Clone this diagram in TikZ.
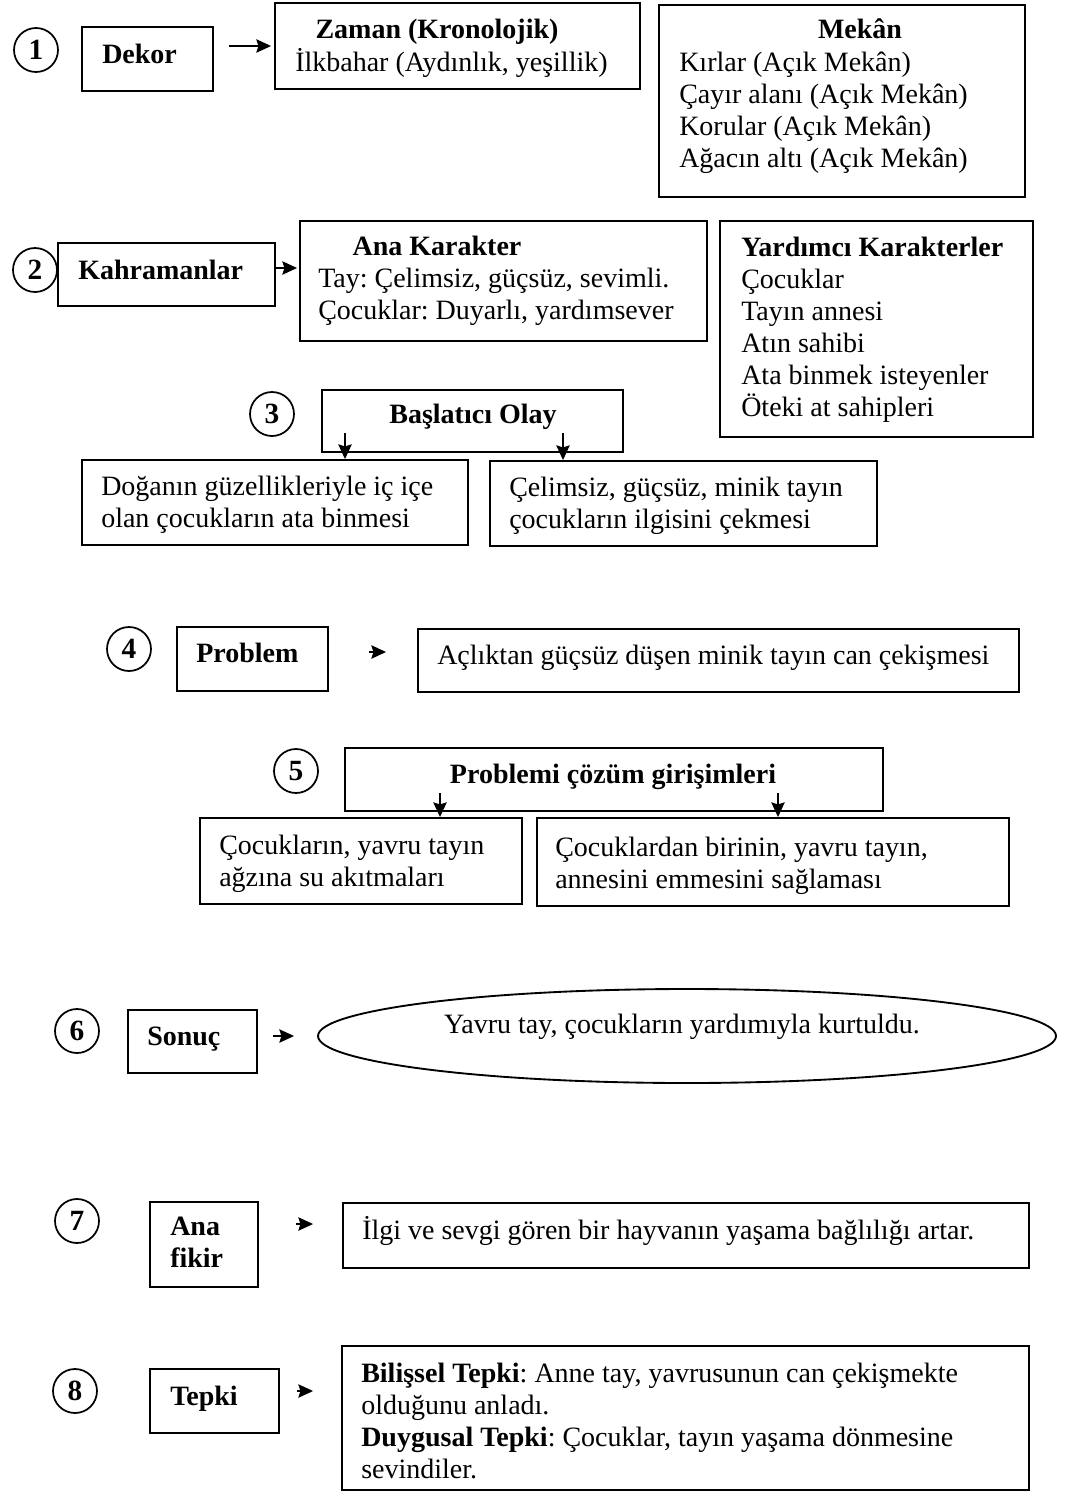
\documentclass[tikz,border=0pt]{standalone}
\usepackage{fontspec}
\setmainfont{Liberation Serif}
\usetikzlibrary{arrows.meta,fit,shapes.geometric}
\begin{document}
\begin{tikzpicture}[x=0.75pt,y=-0.75pt,
  box/.style={draw, line width=1.4pt, inner sep=0pt, fit={#1}},
  txt/.style={inner sep=0pt, font=\fontsize{21}{24}\selectfont\frenchspacing, align=left},
  num/.style={draw, circle, line width=1.3pt, minimum size=33pt, inner sep=0pt,
              font=\fontsize{22}{24}\selectfont\bfseries},
  arr/.style={line width=1.4pt, -{Stealth[length=11pt,width=10pt,inset=1.5pt]}}]
\useasboundingbox (0,0) rectangle (1069,1492);
% multi-line texts are anchored at the baseline of their last line

% ---- 1: Dekor ----
\node[num] (n1) at (36,50) {1};
\node[box={(82,27) (213,91)}] (dekor) {};
\node[txt, anchor=base west] (dekort) at (102,63) {\textbf{Dekor}};
\node[box={(275,3) (640,89)}] (zaman) {};
\node[txt, anchor=base] (zamanh) at (437,38) {\textbf{Zaman (Kronolojik)}};
\node[txt, anchor=base west] (zamant) at (295,71) {İlkbahar (Aydınlık, yeşillik)};
\node[box={(659,5) (1025,197)}] (mekan) {};
\node[txt, anchor=base] (mekanh) at (860,38) {\textbf{Mekân}};
\node[txt, anchor=base west] (mekant) at (679,167)
  {Kırlar (Açık Mekân)\\Çayır alanı (Açık Mekân)\\Korular (Açık Mekân)\\Ağacın altı (Açık Mekân)};
\draw[arr, shorten <=11.25pt, shorten >=2.25pt] (dekor.east |- zaman.west) -- (zaman.west);

% ---- 2: Kahramanlar ----
\node[num] (n2) at (35,270) {2};
\node[box={(58,243) (275,306)}, fill=white] (kahr) {};
\node[txt, anchor=base west] (kahrt) at (78,279) {\textbf{Kahramanlar}};
\node[box={(300,221) (707,341)}] (anak) {};
\node[txt, anchor=base] (anakh) at (437,255) {\textbf{Ana Karakter}};
\node[txt, anchor=base west] (anakt) at (318,319)
  {Tay: Çelimsiz, güçsüz, sevimli.\\Çocuklar: Duyarlı, yardımsever};
\node[box={(720,221) (1033,437)}] (yard) {};
\node[txt, anchor=base west] (yardt) at (741,416)
  {\textbf{Yardımcı Karakterler}\\Çocuklar\\Tayın annesi\\Atın sahibi\\Ata binmek isteyenler\\Öteki at sahipleri};
\coordinate (k2) at (0,268);
\draw[arr, shorten >=1.5pt] (kahr.east |- k2) -- (anak.west |- k2);

% ---- 3: Başlatıcı olay ----
\node[num] (n3) at (272,414) {3};
\node[box={(322,390) (623,452)}] (basl) {};
\node[txt, anchor=base] (baslt) at (473,423) {\textbf{Başlatıcı Olay}};
\node[box={(82,460) (468,545)}] (dog) {};
\node[txt, anchor=base west] (dogt) at (101,527)
  {Doğanın güzellikleriyle iç içe\\olan çocukların ata binmesi};
\node[box={(490,461) (877,546)}] (cel) {};
\node[txt, anchor=base west] (celt) at (509,528)
  {Çelimsiz, güçsüz, minik tayın\\çocukların ilgisini çekmesi};
\coordinate (d3a) at (345,433);
\coordinate (d3b) at (563,433);
\draw[arr] (d3a) -- (d3a |- dog.north);
\draw[arr] (d3b) -- (d3b |- cel.north);

% ---- 4: Problem ----
\node[num] (n4) at (129,649) {4};
\node[box={(177,627) (328,691)}] (prob) {};
\node[txt, anchor=base west] (probt) at (196,662) {\textbf{Problem}};
\node[box={(418,629) (1019,692)}] (acl) {};
\node[txt, anchor=base west] (aclt) at (437,664) {Açlıktan güçsüz düşen minik tayın can çekişmesi};
\coordinate (k4) at (0,652);
\draw[arr, shorten <=30pt, shorten >=23.25pt] (prob.east |- k4) -- (acl.west |- k4);

% ---- 5: Problemi çözüm girişimleri ----
\node[num] (n5) at (296,771) {5};
\node[box={(345,748) (883,811)}] (coz) {};
\node[txt, anchor=base] (cozt) at (613,783) {\textbf{Problemi çözüm girişimleri}};
\node[box={(200,818) (522,904)}] (cocA) {};
\node[txt, anchor=base west] (cocAt) at (219,886)
  {Çocukların, yavru tayın\\ağzına su akıtmaları};
\node[box={(537,818) (1009,906)}] (cocB) {};
\node[txt, anchor=base west] (cocBt) at (555,888)
  {Çocuklardan birinin, yavru tayın,\\annesini emmesini sağlaması};
\coordinate (d5a) at (440,793);
\coordinate (d5b) at (778,793);
\draw[arr] (d5a) -- (d5a |- cocA.north);
\draw[arr] (d5b) -- (d5b |- cocB.north);

% ---- 6: Sonuç ----
\node[num] (n6) at (77,1031) {6};
\node[box={(128,1010) (257,1073)}] (sonuc) {};
\node[txt, anchor=base west] (sonuct) at (147,1045) {\textbf{Sonuç}};
\node[draw, ellipse, line width=1.4pt, minimum width=553.5pt, minimum height=70.5pt, inner sep=0pt] (ell) at (687,1036) {};
\node[txt, anchor=base] (ellt) at (682,1033) {Yavru tay, çocukların yardımıyla kurtuldu.};
\draw[arr, shorten <=11.25pt, shorten >=17.25pt] (sonuc.east |- ell.west) -- (ell.west);

% ---- 7: Ana fikir ----
\node[num] (n7) at (77,1221) {7};
\node[box={(150,1202) (258,1287)}] (fikir) {};
\node[txt, anchor=base west] (fikirt) at (170,1267) {\textbf{Ana}\\\textbf{fikir}};
\node[box={(343,1203) (1029,1268)}] (ilgi) {};
\node[txt, anchor=base west] (ilgit) at (362,1239) {İlgi ve sevgi gören bir hayvanın yaşama bağlılığı artar.};
\coordinate (k7) at (0,1224);
\draw[arr, shorten <=28pt, shorten >=21.75pt] (fikir.east |- k7) -- (ilgi.west |- k7);

% ---- 8: Tepki ----
\node[num] (n8) at (75,1391) {8};
\node[box={(150,1369) (279,1433)}] (tepki) {};
\node[txt, anchor=base west] (tepkit) at (170,1405) {\textbf{Tepki}};
\node[box={(342,1346) (1029,1490)}] (bilis) {};
\node[txt, anchor=base west] (bilist) at (361,1478)
  {\textbf{Bilişsel Tepki}: Anne tay, yavrusunun can çekişmekte\\olduğunu anladı.\\\textbf{Duygusal Tepki}: Çocuklar, tayın yaşama dönmesine\\sevindiler.};
\coordinate (k8) at (0,1391);
\draw[arr, shorten <=12.75pt, shorten >=21pt] (tepki.east |- k8) -- (bilis.west |- k8);
\end{tikzpicture}
\end{document}
